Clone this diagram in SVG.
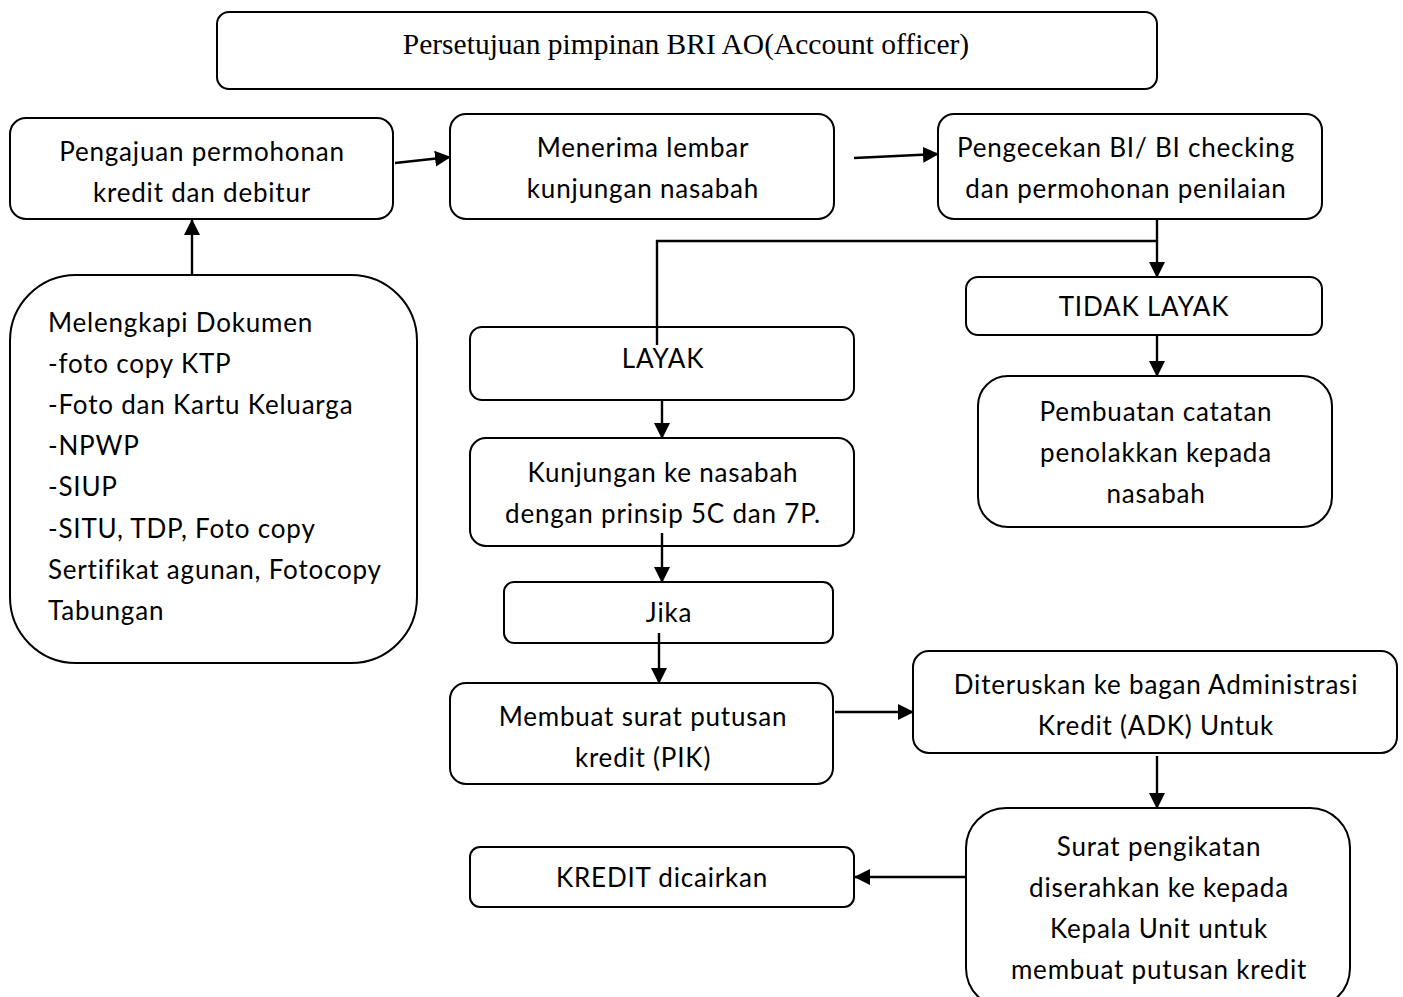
<svg xmlns="http://www.w3.org/2000/svg" width="1403" height="997" viewBox="0 0 1403 997">
<style>
.box{fill:#fff;stroke:#000;stroke-width:2}
.t{font-family:Lato,"Noto Sans",sans-serif;font-size:26px;letter-spacing:0.8px;fill:#000;text-anchor:middle}
.tl{font-family:Lato,"Noto Sans",sans-serif;font-size:26px;letter-spacing:0.8px;fill:#000}
.ts{font-family:"Liberation Serif","Times New Roman",serif;font-size:29.5px;fill:#000;text-anchor:middle}
.c{fill:none;stroke:#000;stroke-width:2.4}
</style>
<defs>
<marker id="ah" markerUnits="userSpaceOnUse" markerWidth="16" markerHeight="17" refX="15" refY="8" orient="auto">
<path d="M0,0 L16,8 L0,16 z" fill="#000"/>
</marker>
</defs>
<rect width="1403" height="997" fill="#fff"/>
<g id="title"><rect class="box" x="217" y="12" width="940" height="77" rx="12"/><text class="ts" x="686" y="54">Persetujuan pimpinan BRI AO(Account officer)</text></g>
<g id="pengajuan"><rect class="box" x="10" y="118" width="383" height="101" rx="16"/><text class="t" x="202" y="161">Pengajuan permohonan</text><text class="t" x="202" y="202">kredit dan debitur</text></g>
<g id="menerima"><rect class="box" x="450" y="114" width="384" height="105" rx="16"/><text class="t" x="643" y="157">Menerima lembar</text><text class="t" x="643" y="198">kunjungan nasabah</text></g>
<g id="pengecekan"><rect class="box" x="938" y="114" width="384" height="105" rx="16"/><text class="t" x="1126" y="157">Pengecekan BI/ BI checking</text><text class="t" x="1126" y="198">dan permohonan penilaian</text></g>
<g id="melengkapi"><rect class="box" x="10" y="275" width="407" height="388" rx="66"/>
<text class="tl" x="48" y="332">Melengkapi Dokumen</text>
<text class="tl" x="48" y="373">-foto copy KTP</text>
<text class="tl" x="48" y="414">-Foto dan Kartu Keluarga</text>
<text class="tl" x="48" y="455">-NPWP</text>
<text class="tl" x="48" y="496">-SIUP</text>
<text class="tl" x="48" y="538">-SITU, TDP, Foto copy</text>
<text class="tl" x="48" y="579">Sertifikat agunan, Fotocopy</text>
<text class="tl" x="48" y="620">Tabungan</text></g>
<g id="tidak-layak"><rect class="box" x="966" y="277" width="356" height="58" rx="12"/><text class="t" x="1144" y="316">TIDAK LAYAK</text></g>
<g id="layak"><rect class="box" x="470" y="327" width="384" height="73" rx="12"/><text class="t" x="663" y="368">LAYAK</text></g>
<g id="pembuatan"><rect class="box" x="978" y="376" width="354" height="151" rx="30"/><text class="t" x="1156" y="421">Pembuatan catatan</text><text class="t" x="1156" y="462">penolakkan kepada</text><text class="t" x="1156" y="503">nasabah</text></g>
<g id="kunjungan"><rect class="box" x="470" y="438" width="384" height="108" rx="16"/><text class="t" x="663" y="482">Kunjungan ke nasabah</text><text class="t" x="663" y="523">dengan prinsip 5C dan 7P.</text></g>
<g id="jika"><rect class="box" x="504" y="582" width="329" height="61" rx="10"/><text class="t" x="669" y="622">Jika</text></g>
<g id="membuat"><rect class="box" x="450" y="683" width="383" height="101" rx="16"/><text class="t" x="643" y="726">Membuat surat putusan</text><text class="t" x="643" y="767">kredit (PIK)</text></g>
<g id="diteruskan"><rect class="box" x="913" y="651" width="484" height="102" rx="16"/><text class="t" x="1156" y="694">Diteruskan ke bagan Administrasi</text><text class="t" x="1156" y="735">Kredit (ADK) Untuk</text></g>
<g id="surat"><rect class="box" x="966" y="808" width="384" height="200" rx="40"/><text class="t" x="1159" y="856">Surat pengikatan</text><text class="t" x="1159" y="897">diserahkan ke kepada</text><text class="t" x="1159" y="938">Kepala Unit untuk</text><text class="t" x="1159" y="979">membuat putusan kredit</text></g>
<g id="kredit"><rect class="box" x="470" y="847" width="384" height="60" rx="10"/><text class="t" x="662" y="887">KREDIT dicairkan</text></g>
<g id="connectors">
<line class="c" x1="192" y1="275" x2="192" y2="220" marker-end="url(#ah)"/>
<line class="c" x1="395" y1="163" x2="450" y2="157" marker-end="url(#ah)"/>
<line class="c" x1="854" y1="158" x2="938" y2="154" marker-end="url(#ah)"/>
<line class="c" x1="1157" y1="219" x2="1157" y2="277" marker-end="url(#ah)"/>
<polyline class="c" points="1157,241 657,241 657,345"/>
<line class="c" x1="1157" y1="335" x2="1157" y2="376" marker-end="url(#ah)"/>
<line class="c" x1="662" y1="400" x2="662" y2="438" marker-end="url(#ah)"/>
<line class="c" x1="662" y1="533" x2="662" y2="582" marker-end="url(#ah)"/>
<line class="c" x1="659" y1="633" x2="659" y2="683" marker-end="url(#ah)"/>
<line class="c" x1="835" y1="712" x2="913" y2="712" marker-end="url(#ah)"/>
<line class="c" x1="1157" y1="756" x2="1157" y2="808" marker-end="url(#ah)"/>
<line class="c" x1="966" y1="877" x2="855" y2="877" marker-end="url(#ah)"/>
</g>
</svg>
